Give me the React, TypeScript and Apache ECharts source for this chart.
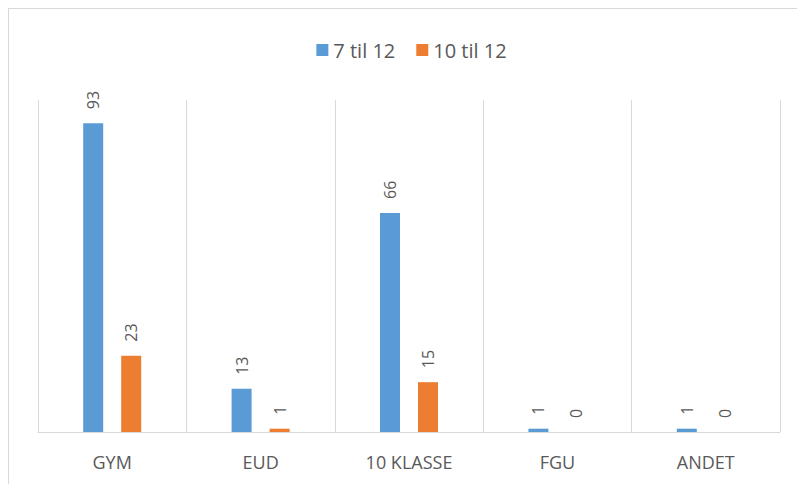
import React, { useEffect, useRef } from "react";
import * as echarts from "echarts";

const categories = ["GYM", "EUD", "10 KLASSE", "FGU", "ANDET"];
const seriesNames = ["7 til 12", "10 til 12"];
const values7til12 = [93, 13, 66, 1, 1];
const values10til12 = [23, 1, 15, 0, 0];

export default function App() {
  const ref = useRef<HTMLDivElement>(null);
  useEffect(() => {
    if (!ref.current) return;
    const chart = echarts.init(ref.current, null, { renderer: "svg" });
    const font = "'Open Sans', 'Noto Sans', sans-serif";
    const label = {
      show: true,
      position: "top" as const,
      rotate: 90,
      align: "left" as const,
      verticalAlign: "middle" as const,
      distance: 14,
      color: "#595959",
      fontSize: 16,
      fontFamily: font,
    };
    chart.setOption({
      animation: false,
      backgroundColor: "#ffffff",
      legend: {
        top: 26,
        left: "center",
        itemWidth: 12,
        itemHeight: 12,
        itemGap: 21,
        icon: "rect",
        textStyle: { color: "#595959", fontSize: 20, fontFamily: font },
        data: seriesNames,
      },
      grid: { left: 29, right: 34, top: 91, bottom: 61, containLabel: false },
      xAxis: {
        type: "category",
        data: categories,
        axisLine: { show: true, lineStyle: { color: "#d9d9d9", width: 1 } },
        axisTick: { show: false },
        splitLine: { show: true, lineStyle: { color: "#d9d9d9", width: 1 } },
        axisLabel: {
          color: "#595959",
          fontSize: 18,
          fontFamily: font,
          margin: 21,
        },
      },
      yAxis: {
        type: "value",
        min: 0,
        max: 100,
        show: false,
        splitLine: { show: false },
      },
      series: [
        {
          name: seriesNames[0],
          type: "bar",
          data: values7til12,
          barWidth: 20,
          barGap: "90%",
          itemStyle: { color: "#5B9BD5" },
          label,
        },
        {
          name: seriesNames[1],
          type: "bar",
          data: values10til12,
          barWidth: 20,
          itemStyle: { color: "#ED7D31" },
          label,
        },
      ],
    });
    return () => chart.dispose();
  }, []);
  return (
    <div style={{ border: "1px solid #d9d9d9", width: 805, height: 484 }}>
      <div ref={ref} style={{ width: 805, height: 484 }} />
    </div>
  );
}
